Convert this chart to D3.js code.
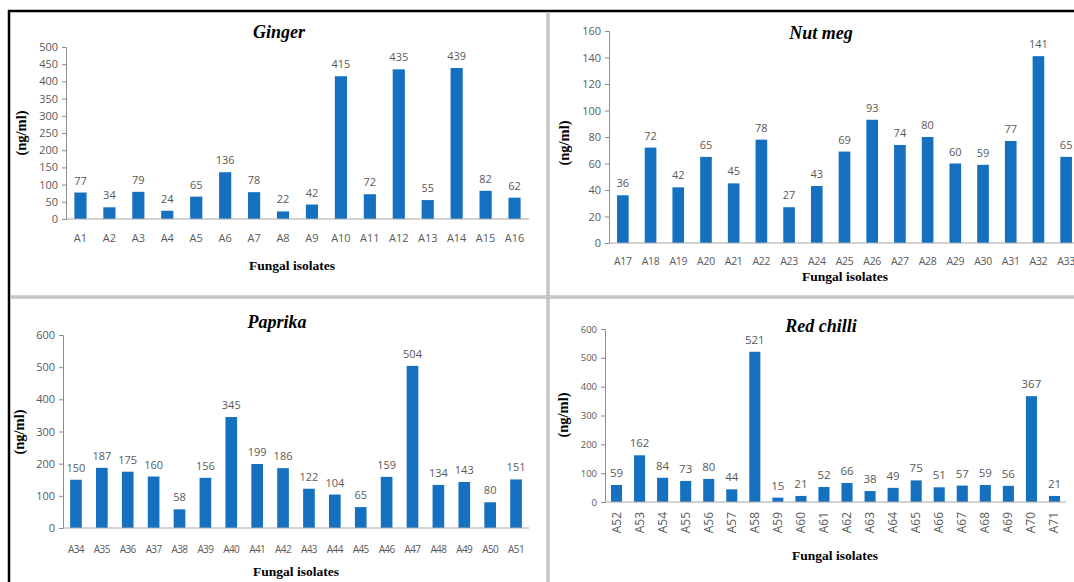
<script src="https://d3js.org/d3.v7.min.js"></script>
<style>
  body { margin: 0; background: #fff; }
</style>
<svg id="vis"></svg>
<script>
    // data
    const gingerIsolates = ["A1","A2","A3","A4","A5","A6","A7","A8","A9","A10","A11","A12","A13","A14","A15","A16"]
    const gingerValues = [77, 34, 79, 24, 65, 136, 78, 22, 42, 415, 72, 435, 55, 439, 82, 62]
    const gingerTicks = [0, 50, 100, 150, 200, 250, 300, 350, 400, 450, 500]

    const nutmegIsolates = ["A17","A18","A19","A20","A21","A22","A23","A24","A25","A26","A27","A28","A29","A30","A31","A32","A33"]
    const nutmegValues = [36, 72, 42, 65, 45, 78, 27, 43, 69, 93, 74, 80, 60, 59, 77, 141, 65]
    const nutmegTicks = [0, 20, 40, 60, 80, 100, 120, 140, 160]

    const paprikaIsolates = ["A34","A35","A36","A37","A38","A39","A40","A41","A42","A43","A44","A45","A46","A47","A48","A49","A50","A51"]
    const paprikaValues = [150, 187, 175, 160, 58, 156, 345, 199, 186, 122, 104, 65, 159, 504, 134, 143, 80, 151]
    const paprikaTicks = [0, 100, 200, 300, 400, 500, 600]

    const chilliIsolates = ["A52","A53","A54","A55","A56","A57","A58","A59","A60","A61","A62","A63","A64","A65","A66","A67","A68","A69","A70","A71"]
    const chilliValues = [59, 162, 84, 73, 80, 44, 521, 15, 21, 52, 66, 38, 49, 75, 51, 57, 59, 56, 367, 21]
    const chilliTicks = [0, 100, 200, 300, 400, 500, 600]

    const barColor = "#1570c0"
    const textGray = "#595959"
    const sans = "'Open Sans', 'Liberation Sans', sans-serif"
    const serif = "'Liberation Serif', 'DejaVu Serif', serif"

    let svg = d3.select('#vis')
        .attr("width", 1074)
        .attr("height", 582)

    // one small bar chart
    function drawPanel(p) {
        let g = svg.append('g')

        let x = d3.scaleBand()
            .domain(p.cats)
            .range([p.x0, p.x1])
            .paddingInner(p.pad)
            .paddingOuter(p.pad / 2)

        let y = d3.scaleLinear()
            .domain([0, d3.max(p.ticks)])
            .range([p.yBottom, p.yTop])

        // y axis
        let yAxis = g.append('g')
            .attr('transform', 'translate(' + p.x0 + ',0)')
            .call(d3.axisLeft(y).tickValues(p.ticks).tickSize(4).tickSizeOuter(4).tickPadding(4))
        yAxis.select('.domain').attr('stroke', '#8c8c8c')
        yAxis.selectAll('.tick line').attr('stroke', '#8c8c8c')
        yAxis.selectAll('.tick text')
            .attr('fill', textGray)
            .style('font-family', sans)
            .style('font-size', p.yFont + 'px')

        // bars
        g.selectAll('rect.bar')
            .data(p.vals)
            .enter().append('rect')
            .attr('class', 'bar')
            .attr('fill', barColor)
            .attr('x', (d, i) => x(p.cats[i]))
            .attr('width', x.bandwidth())
            .attr('y', d => y(d))
            .attr('height', d => y(0) - y(d))

        // x axis line
        g.append('line')
            .attr('x1', p.x0).attr('x2', p.x1)
            .attr('y1', y(0)).attr('y2', y(0))
            .attr('stroke', '#a6a6a6')

        // value labels
        g.selectAll('text.val')
            .data(p.vals)
            .enter().append('text')
            .attr('class', 'val')
            .attr('x', (d, i) => x(p.cats[i]) + x.bandwidth() / 2)
            .attr('y', d => y(d) - 8)
            .attr('text-anchor', 'middle')
            .attr('fill', textGray)
            .style('font-family', sans)
            .style('font-size', p.valFont + 'px')
            .text(d => d)

        // category labels
        let cl = g.selectAll('text.cat')
            .data(p.cats)
            .enter().append('text')
            .attr('class', 'cat')
            .attr('fill', textGray)
            .style('font-family', sans)
            .style('font-size', p.catFont + 'px')
            .style('letter-spacing', p.catSpacing + 'px')
            .text(d => d)
        if (p.rotate) {
            cl.attr('text-anchor', 'end')
                .attr('transform', d => 'translate(' + (x(d) + x.bandwidth() / 2 + 4) + ',' + p.catY + ') rotate(-90)')
        } else {
            cl.attr('text-anchor', 'middle')
                .attr('x', d => x(d) + x.bandwidth() / 2)
                .attr('y', p.catY)
        }

        // title
        g.append('text')
            .attr('x', p.titleX).attr('y', p.titleY)
            .attr('text-anchor', 'middle')
            .style('font-family', serif)
            .style('font-weight', 'bold')
            .style('font-style', 'italic')
            .style('font-size', '18px')
            .text(p.title)

        // axis titles
        g.append('text')
            .attr('x', p.xtX).attr('y', p.xtY)
            .attr('text-anchor', 'middle')
            .style('font-family', serif)
            .style('font-weight', 'bold')
            .style('font-size', '13.5px')
            .text('Fungal isolates')

        g.append('text')
            .attr('transform', 'translate(' + (p.ylX + 5) + ',' + p.ylY + ') rotate(-90)')
            .attr('text-anchor', 'middle')
            .style('font-family', serif)
            .style('font-weight', 'bold')
            .style('font-size', '14.5px')
            .text('(ng/ml)')
    }

    drawPanel({
        cats: gingerIsolates, vals: gingerValues, ticks: gingerTicks, title: 'Ginger',
        x0: 66, x1: 529, pad: 0.58, yTop: 47, yBottom: 219,
        yFont: 11, valFont: 11, catFont: 11, catSpacing: 0, catY: 242,
        titleX: 279, titleY: 38, xtX: 292, xtY: 270, ylX: 21, ylY: 133
    })

    drawPanel({
        cats: nutmegIsolates, vals: nutmegValues, ticks: nutmegTicks, title: 'Nut meg',
        x0: 609, x1: 1080, pad: 0.58, yTop: 31, yBottom: 243,
        yFont: 11, valFont: 11, catFont: 10.5, catSpacing: -0.3, catY: 265,
        titleX: 821, titleY: 39, xtX: 845, xtY: 281, ylX: 564, ylY: 143
    })

    drawPanel({
        cats: paprikaIsolates, vals: paprikaValues, ticks: paprikaTicks, title: 'Paprika',
        x0: 63, x1: 529, pad: 0.55, yTop: 335, yBottom: 528,
        yFont: 11, valFont: 11, catFont: 10, catSpacing: -0.6, catY: 553,
        titleX: 277, titleY: 328, xtX: 296, xtY: 576, ylX: 19, ylY: 432
    })

    drawPanel({
        cats: chilliIsolates, vals: chilliValues, ticks: chilliTicks, title: 'Red chilli',
        x0: 605, x1: 1066, pad: 0.52, yTop: 329, yBottom: 502,
        yFont: 9.5, valFont: 11.5, catFont: 12, catSpacing: 0, catY: 512, rotate: true,
        titleX: 821, titleY: 332, xtX: 835, xtY: 560, ylX: 563, ylY: 415
    })

    // frame lines
    svg.append('line').attr('x1', 8).attr('x2', 1074).attr('y1', 11).attr('y2', 11)
        .attr('stroke', 'black').attr('stroke-width', 2.5)
    svg.append('line').attr('x1', 9).attr('x2', 9).attr('y1', 10).attr('y2', 582)
        .attr('stroke', 'black').attr('stroke-width', 2.5)

    // panel separators (double gray)
    svg.append('line').attr('x1', 548).attr('x2', 548).attr('y1', 12).attr('y2', 582)
        .attr('stroke', '#a8a8a8').attr('stroke-width', 3)
    svg.append('line').attr('x1', 548).attr('x2', 548).attr('y1', 12).attr('y2', 582)
        .attr('stroke', '#e6e6e6').attr('stroke-width', 1)
    svg.append('line').attr('x1', 10).attr('x2', 1074).attr('y1', 297).attr('y2', 297)
        .attr('stroke', '#a8a8a8').attr('stroke-width', 3)
    svg.append('line').attr('x1', 10).attr('x2', 1074).attr('y1', 297).attr('y2', 297)
        .attr('stroke', '#e6e6e6').attr('stroke-width', 1)
</script>
